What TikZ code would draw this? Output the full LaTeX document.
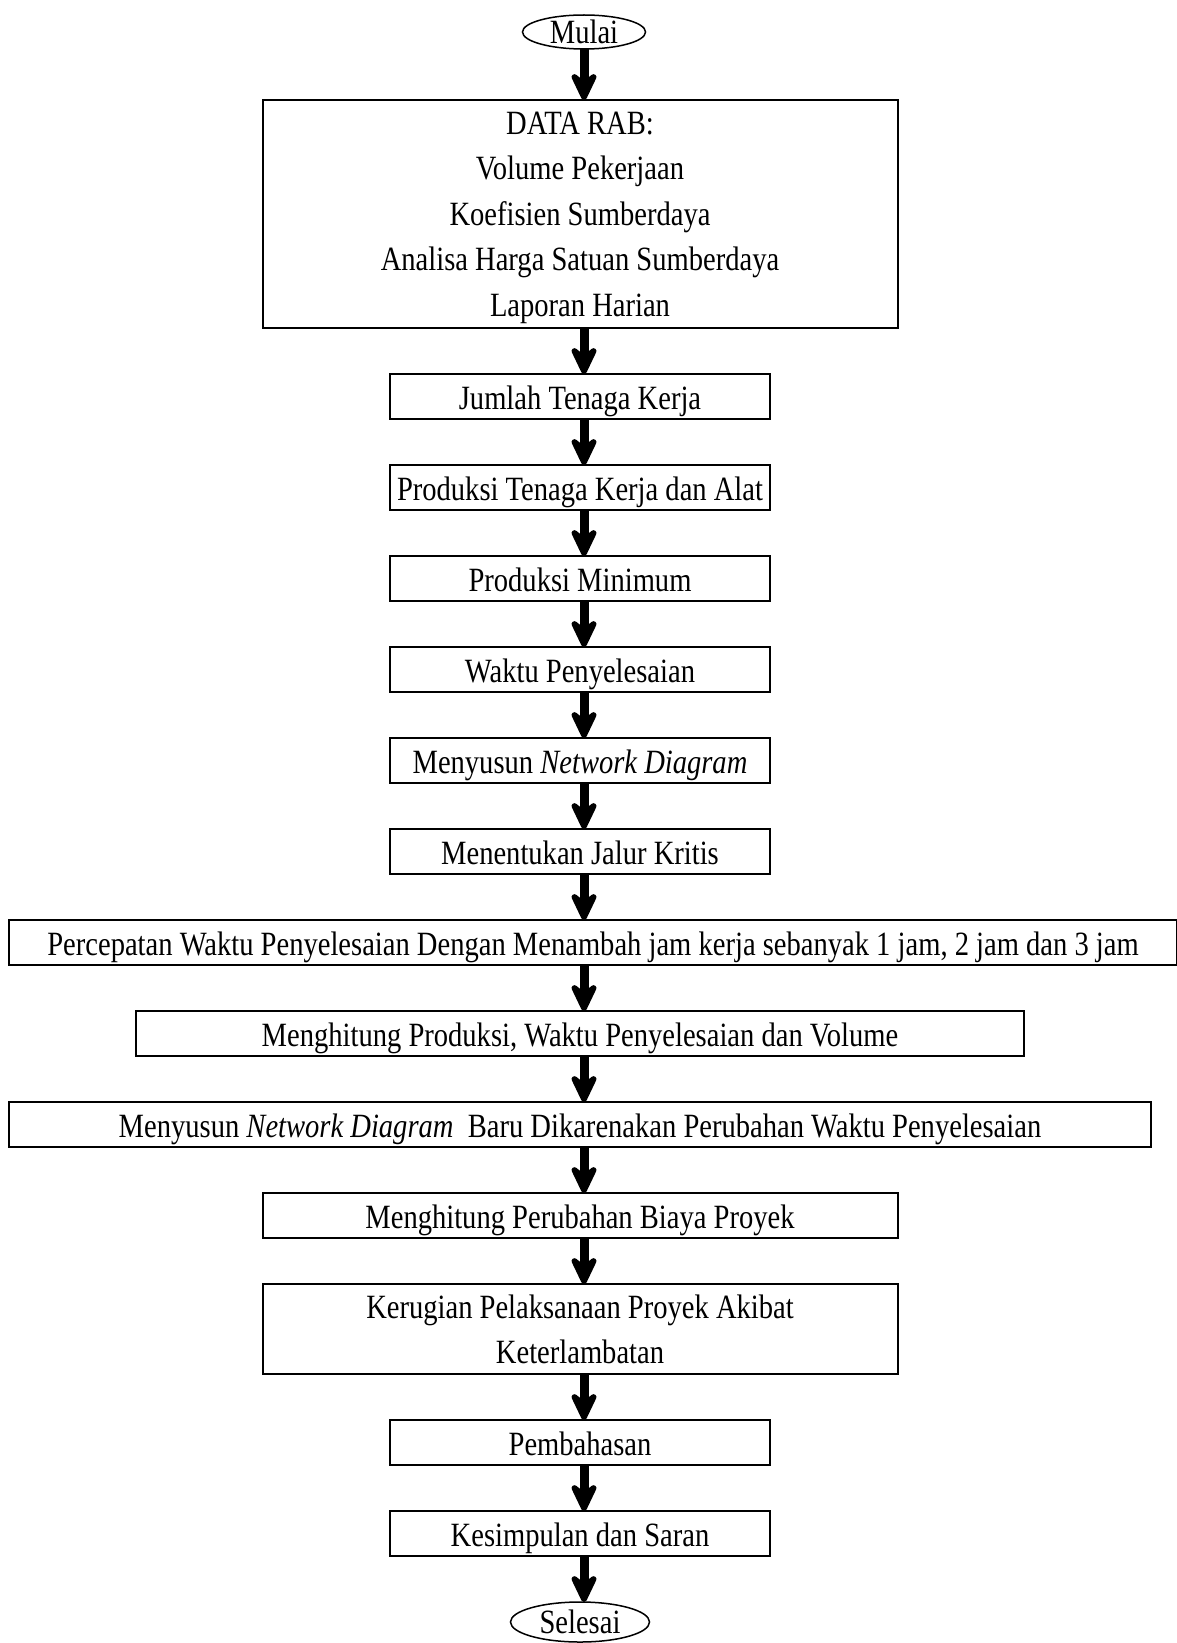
\documentclass[tikz,border=0pt]{standalone}
\usepackage{fontspec}
\setmainfont{Liberation Serif}[FakeStretch=0.84]
\usepackage{tikz}
\usetikzlibrary{arrows.meta,positioning,shapes.geometric}

\begin{document}
\begin{tikzpicture}[node distance=46pt,
  every node/.style={font=\fontsize{34pt}{45.6pt}\selectfont, inner sep=0pt, outer sep=0pt},
  box/.style={draw, line width=2pt, minimum height=45pt, align=center,
    execute at begin node=\rule[-8pt]{0pt}{42pt}, execute at end node=\rule[-8pt]{0pt}{8pt}},
  multibox/.style={box, text depth=0pt},
  term/.style={draw, ellipse, line width=1.5pt},
  arr/.style={-{Stealth[length=36pt, width=34pt, inset=13pt, round]}, line width=9pt}]
\useasboundingbox (0,0) rectangle (1177pt,-1643pt);
\node[term, minimum width=123pt, minimum height=34pt] (mulai) at (584pt,-32pt) {Mulai};
\node[multibox, minimum width=635pt, minimum height=228pt, below=51pt of mulai, xshift=-4pt] (data)
  {DATA RAB:\\ Volume Pekerjaan\\ Koefisien Sumberdaya\\ Analisa Harga Satuan Sumberdaya\\ Laporan Harian};
\node[box, minimum width=380pt, below=of data] (jumlah) {Jumlah Tenaga Kerja};
\node[box, minimum width=380pt, below=of jumlah] (prod) {Produksi Tenaga Kerja dan Alat};
\node[box, minimum width=380pt, below=of prod] (prodmin) {Produksi Minimum};
\node[box, minimum width=380pt, below=of prodmin] (waktu) {Waktu Penyelesaian};
\node[box, minimum width=380pt, below=of waktu] (network) {Menyusun \textit{Network Diagram}};
\node[box, minimum width=380pt, below=of network] (kritis) {Menentukan Jalur Kritis};
\node[box, minimum width=1168pt, below=of kritis, xshift=13pt] (percepatan)
  {Percepatan Waktu Penyelesaian Dengan Menambah jam kerja sebanyak 1 jam, 2 jam dan 3 jam};
\node[box, minimum width=888pt, below=of percepatan, xshift=-13pt] (hitung)
  {Menghitung Produksi, Waktu Penyelesaian dan Volume};
\node[box, minimum width=1142pt, below=of hitung] (baru)
  {Menyusun \textit{Network Diagram}\ \ Baru Dikarenakan Perubahan Waktu Penyelesaian};
\node[box, minimum width=635pt, below=of baru] (biaya) {Menghitung Perubahan Biaya Proyek};
\node[multibox, minimum width=635pt, minimum height=90pt, below=of biaya] (rugi)
  {Kerugian Pelaksanaan Proyek Akibat\\ Keterlambatan};
\node[box, minimum width=380pt, below=of rugi] (bahas) {Pembahasan};
\node[box, minimum width=380pt, below=of bahas] (simpul) {Kesimpulan dan Saran};
\node[term, minimum width=139pt, minimum height=40pt, below=of simpul] (selesai) {Selesai};
% panah alur
\draw[arr] (mulai) -- (mulai |- data.north);
\foreach \a/\b in {data/jumlah, jumlah/prod, prod/prodmin, prodmin/waktu, waktu/network,
  network/kritis, hitung/baru, baru/biaya, biaya/rugi, rugi/bahas, bahas/simpul, simpul/selesai}
  \draw[arr] ([xshift=4pt]\a.south) -- ([xshift=4pt]\b.north);
\draw[arr] ([xshift=4pt]kritis.south) -- ([xshift=4pt]kritis.south |- percepatan.north);
\draw[arr] ([xshift=4pt]hitung.north |- percepatan.south) -- ([xshift=4pt]hitung.north);
\end{tikzpicture}
\end{document}
